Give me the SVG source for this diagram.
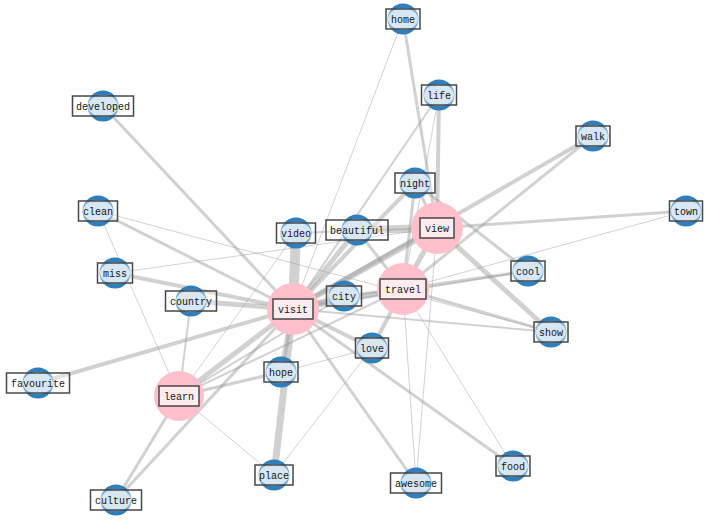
<svg xmlns="http://www.w3.org/2000/svg" width="712" height="522" viewBox="0 0 712 522">
<style>
.e{stroke:#9a9a9a;stroke-opacity:0.45;stroke-linecap:butt;fill:none}
.w1{stroke-width:1}.w2{stroke-width:2}.w3{stroke-width:3}.w4{stroke-width:4}.w5{stroke-width:5}.w6{stroke-width:6}.w7{stroke-width:7}.w8{stroke-width:8}.w10{stroke-width:10}
.b{fill:#2f7fbd}
.bl{fill:#c3daee}
.p{fill:#ffc0cb}
.lb{fill:#ffffff;fill-opacity:0.35;stroke:#474747;stroke-width:1.5}
.lp{fill:#ffffff;fill-opacity:0.7;stroke:#474747;stroke-width:1.5}
text{font-family:"Liberation Mono","DejaVu Sans Mono",monospace;font-size:10px;fill:#151515;text-anchor:middle}
</style>
<rect width="712" height="522" fill="#ffffff"/>
<g id="edges">
<line class="e w3" x1="103" y1="106" x2="293" y2="309"/>
<line class="e w1" x1="403" y1="19" x2="293" y2="309"/>
<line class="e w3" x1="403" y1="19" x2="437" y2="228"/>
<line class="e w2" x1="439" y1="95" x2="293" y2="309"/>
<line class="e w4" x1="439" y1="95" x2="437" y2="228"/>
<line class="e w1" x1="439" y1="95" x2="403" y2="289"/>
<line class="e w4" x1="593" y1="136" x2="293" y2="309"/>
<line class="e w3" x1="593" y1="136" x2="403" y2="289"/>
<line class="e w3" x1="686" y1="211" x2="437" y2="228"/>
<line class="e w1" x1="686" y1="211" x2="403" y2="289"/>
<line class="e w3" x1="98" y1="211" x2="293" y2="309"/>
<line class="e w1" x1="98" y1="211" x2="551" y2="332"/>
<line class="e w1" x1="98" y1="211" x2="179" y2="396"/>
<line class="e w4" x1="115" y1="273" x2="293" y2="309"/>
<line class="e w1" x1="115" y1="273" x2="437" y2="228"/>
<line class="e w5" x1="191" y1="301" x2="293" y2="309"/>
<line class="e w2" x1="191" y1="301" x2="179" y2="396"/>
<line class="e w4" x1="38" y1="383" x2="293" y2="309"/>
<line class="e w3" x1="116" y1="500" x2="179" y2="396"/>
<line class="e w3" x1="116" y1="500" x2="293" y2="309"/>
<line class="e w5" x1="179" y1="396" x2="293" y2="309"/>
<line class="e w3" x1="179" y1="396" x2="281" y2="372"/>
<line class="e w2" x1="179" y1="396" x2="344" y2="296"/>
<line class="e w2" x1="179" y1="396" x2="403" y2="289"/>
<line class="e w1" x1="179" y1="396" x2="274" y2="475"/>
<line class="e w10" x1="296" y1="233" x2="293" y2="309"/>
<line class="e w7" x1="293" y1="309" x2="274" y2="475"/>
<line class="e w5" x1="281" y1="372" x2="293" y2="309"/>
<line class="e w1" x1="281" y1="372" x2="372" y2="348"/>
<line class="e w1" x1="274" y1="475" x2="372" y2="348"/>
<line class="e w4" x1="372" y1="348" x2="403" y2="289"/>
<line class="e w4" x1="372" y1="348" x2="293" y2="309"/>
<line class="e w3" x1="416" y1="483" x2="293" y2="309"/>
<line class="e w1" x1="416" y1="483" x2="403" y2="289"/>
<line class="e w1" x1="416" y1="483" x2="437" y2="228"/>
<line class="e w3" x1="513" y1="466" x2="293" y2="309"/>
<line class="e w1" x1="513" y1="466" x2="403" y2="289"/>
<line class="e w5" x1="437" y1="228" x2="551" y2="332"/>
<line class="e w2" x1="293" y1="309" x2="551" y2="332"/>
<line class="e w3" x1="403" y1="289" x2="551" y2="332"/>
<line class="e w3" x1="415" y1="183" x2="528" y2="271"/>
<line class="e w3" x1="528" y1="271" x2="403" y2="289"/>
<line class="e w2" x1="528" y1="271" x2="293" y2="309"/>
<line class="e w5" x1="344" y1="296" x2="293" y2="309"/>
<line class="e w3" x1="344" y1="296" x2="403" y2="289"/>
<line class="e w8" x1="357" y1="230" x2="437" y2="228"/>
<line class="e w5" x1="357" y1="230" x2="293" y2="309"/>
<line class="e w3" x1="357" y1="230" x2="403" y2="289"/>
<line class="e w6" x1="437" y1="228" x2="293" y2="309"/>
<line class="e w6" x1="403" y1="289" x2="293" y2="309"/>
<line class="e w5" x1="437" y1="228" x2="403" y2="289"/>
<line class="e w4" x1="415" y1="183" x2="293" y2="309"/>
<line class="e w3" x1="415" y1="183" x2="403" y2="289"/>
<line class="e w3" x1="415" y1="183" x2="437" y2="228"/>
<line class="e w1" x1="296" y1="233" x2="179" y2="396"/>
<line class="e w2" x1="296" y1="233" x2="437" y2="228"/>
</g>
<g id="node-home" transform="translate(403,19)"><circle class="b" r="15.5"/><ellipse class="bl" rx="15" ry="11"/><rect class="lb" x="-17" y="-10" width="34" height="20"/><text y="3.5">home</text></g>
<g id="node-life" transform="translate(439,95)"><circle class="b" r="15.5"/><ellipse class="bl" rx="15" ry="11"/><rect class="lb" x="-17.5" y="-10" width="35" height="20"/><text y="3.5">life</text></g>
<g id="node-walk" transform="translate(593,136)"><circle class="b" r="15.5"/><ellipse class="bl" rx="15" ry="11"/><rect class="lb" x="-17" y="-10" width="34" height="20"/><text y="3.5">walk</text></g>
<g id="node-developed" transform="translate(103,106)"><circle class="b" r="15.5"/><ellipse class="bl" rx="15" ry="11"/><rect class="lb" x="-30.5" y="-10" width="61" height="20"/><text y="3.5">developed</text></g>
<g id="node-night" transform="translate(415,183)"><circle class="b" r="15.5"/><ellipse class="bl" rx="15" ry="11"/><rect class="lb" x="-20" y="-10" width="40" height="20"/><text y="3.5">night</text></g>
<g id="node-clean" transform="translate(98,211)"><circle class="b" r="15.5"/><ellipse class="bl" rx="15" ry="11"/><rect class="lb" x="-19.5" y="-10" width="39" height="20"/><text y="3.5">clean</text></g>
<g id="node-video" transform="translate(296,233)"><circle class="b" r="15.5"/><ellipse class="bl" rx="15" ry="11"/><rect class="lb" x="-19.5" y="-10" width="39" height="20"/><text y="3.5">video</text></g>
<g id="node-beautiful" transform="translate(357,230)"><circle class="b" r="15.5"/><ellipse class="bl" rx="15" ry="11"/><rect class="lb" x="-31" y="-10" width="62" height="20"/><text y="3.5">beautiful</text></g>
<g id="node-town" transform="translate(686,211)"><circle class="b" r="15.5"/><ellipse class="bl" rx="15" ry="11"/><rect class="lb" x="-16.5" y="-10" width="33" height="20"/><text y="3.5">town</text></g>
<g id="node-cool" transform="translate(528,271)"><circle class="b" r="15.5"/><ellipse class="bl" rx="15" ry="11"/><rect class="lb" x="-17" y="-10" width="34" height="20"/><text y="3.5">cool</text></g>
<g id="node-miss" transform="translate(115,273)"><circle class="b" r="15.5"/><ellipse class="bl" rx="15" ry="11"/><rect class="lb" x="-17.5" y="-10" width="35" height="20"/><text y="3.5">miss</text></g>
<g id="node-country" transform="translate(191,301)"><circle class="b" r="15.5"/><ellipse class="bl" rx="15" ry="11"/><rect class="lb" x="-25.5" y="-10" width="51" height="20"/><text y="3.5">country</text></g>
<g id="node-city" transform="translate(344,296)"><circle class="b" r="15.5"/><ellipse class="bl" rx="15" ry="11"/><rect class="lb" x="-17.5" y="-10" width="35" height="20"/><text y="3.5">city</text></g>
<g id="node-show" transform="translate(551,332)"><circle class="b" r="15.5"/><ellipse class="bl" rx="15" ry="11"/><rect class="lb" x="-17" y="-10" width="34" height="20"/><text y="3.5">show</text></g>
<g id="node-love" transform="translate(372,348)"><circle class="b" r="15.5"/><ellipse class="bl" rx="15" ry="11"/><rect class="lb" x="-16.5" y="-10" width="33" height="20"/><text y="3.5">love</text></g>
<g id="node-hope" transform="translate(281,372)"><circle class="b" r="15.5"/><ellipse class="bl" rx="15" ry="11"/><rect class="lb" x="-17" y="-10" width="34" height="20"/><text y="3.5">hope</text></g>
<g id="node-favourite" transform="translate(38,383)"><circle class="b" r="15.5"/><ellipse class="bl" rx="15" ry="11"/><rect class="lb" x="-31.5" y="-10" width="63" height="20"/><text y="3.5">favourite</text></g>
<g id="node-place" transform="translate(274,475)"><circle class="b" r="15.5"/><ellipse class="bl" rx="15" ry="11"/><rect class="lb" x="-19" y="-10" width="38" height="20"/><text y="3.5">place</text></g>
<g id="node-awesome" transform="translate(416,483)"><circle class="b" r="15.5"/><ellipse class="bl" rx="15" ry="11"/><rect class="lb" x="-25.5" y="-10" width="51" height="20"/><text y="3.5">awesome</text></g>
<g id="node-food" transform="translate(513,466)"><circle class="b" r="15.5"/><ellipse class="bl" rx="15" ry="11"/><rect class="lb" x="-17" y="-10" width="34" height="20"/><text y="3.5">food</text></g>
<g id="node-culture" transform="translate(116,500)"><circle class="b" r="15.5"/><ellipse class="bl" rx="15" ry="11"/><rect class="lb" x="-25.5" y="-10" width="51" height="20"/><text y="3.5">culture</text></g>
<g id="node-view" transform="translate(437,228)"><circle class="p" r="26"/><rect class="lp" x="-17" y="-10" width="34" height="20"/><text y="3.5">view</text></g>
<g id="node-travel" transform="translate(403,289)"><circle class="p" r="26"/><rect class="lp" x="-23" y="-10" width="46" height="20"/><text y="3.5">travel</text></g>
<g id="node-visit" transform="translate(293,309)"><circle class="p" r="26"/><rect class="lp" x="-20" y="-10" width="40" height="20"/><text y="3.5">visit</text></g>
<g id="node-learn" transform="translate(179,396)"><circle class="p" r="25"/><rect class="lp" x="-20" y="-10" width="40" height="20"/><text y="3.5">learn</text></g>
</svg>
